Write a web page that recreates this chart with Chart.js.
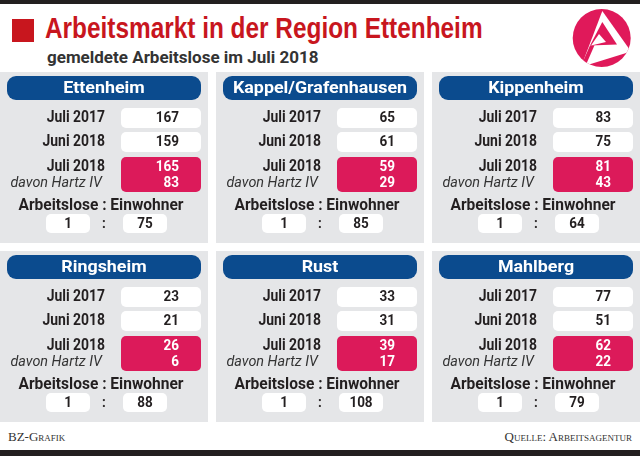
<!DOCTYPE html>
<html lang="de">
<head>
<meta charset="utf-8">
<title>Arbeitsmarkt in der Region Ettenheim</title>
<script src="https://cdn.jsdelivr.net/npm/chart.js@4"></script>
<style>
  html, body { margin: 0; padding: 0; background: #fff; }
  #wrap { position: relative; width: 640px; height: 456px; overflow: hidden; background: #fff; }
  .balken { position: absolute; left: 0; width: 640px; background: #231f20; }
  #quadrat { position: absolute; left: 12px; top: 19px; width: 22px; height: 23px; background: #c8161e; }
  .fit { position: absolute; white-space: nowrap; transform-origin: 0 0; }
  #titel { left: 45px; top: 12px; font: bold 29px "Liberation Sans", Arial, sans-serif; color: #c8161e; }
  #untertitel { left: 47px; top: 47px; font: bold 17px Roboto, sans-serif; color: #333; }
  #logo { position: absolute; left: 570px; top: 5px; }
  #chart { position: absolute; left: 0; top: 72px; }
  .fuss { position: absolute; top: 429px; font: 13px "Liberation Serif", serif; font-variant: small-caps; color: #333; white-space: nowrap; }
</style>
</head>
<body>
<div id="wrap">
  <div class="balken" style="top:0;height:4px"></div>
  <div id="quadrat"></div>
  <div id="titel" class="fit" data-breite="438">Arbeitsmarkt in der Region Ettenheim</div>
  <div id="untertitel" class="fit" data-breite="272">gemeldete Arbeitslose im Juli 2018</div>
  <svg id="logo" width="64" height="66" viewBox="0 0 64 66">
    <defs><clipPath id="kreis"><circle cx="31.7" cy="33" r="29"/></clipPath></defs>
    <circle cx="31.7" cy="33" r="29" fill="#e0195a"/>
    <g clip-path="url(#kreis)">
      <path d="M32.3 6 L11 62 L61 46.5 Z" fill="#fff"/>
      <path d="M32.3 17 L47 39.5 L20 40.5 Z" fill="#e0195a"/>
      <path d="M29 29 L36 37 L21 40.5 Z" fill="#fff"/>
      <path d="M20 40.5 L24.5 40.3 L15 62 L10.5 62 Z" fill="#e0195a"/>
    </g>
  </svg>
  <canvas id="chart" width="640" height="350"></canvas>
  <div class="fuss" style="left:8px">BZ-Grafik</div>
  <div class="fuss" style="right:8px">Quelle: Arbeitsagentur</div>
  <div class="balken" style="top:450px;height:6px"></div>
</div>
<script>
// Werte aus der Grafik
const orte = ['Ettenheim', 'Kappel/Grafenhausen', 'Kippenheim', 'Ringsheim', 'Rust', 'Mahlberg'];
const zeilen = ['Juli 2017', 'Juni 2018', 'Juli 2018'];
const juli2017 = [167, 65, 83, 23, 33, 77];
const juni2018 = [159, 61, 75, 21, 31, 51];
const juli2018 = [165, 59, 81, 26, 39, 62];
const hartzIV = [83, 29, 43, 6, 17, 22];
const einwohnerJeArbeitslosem = [75, 85, 64, 88, 108, 79];

const BLAU = '#0b4b8e';
const PINK = '#dc1a5a';
const GRAU = '#e5e6e8';
const TEXT = '#231f20';
const PANEL_B = 208, PANEL_H = 171, ABSTAND_X = 8, ABSTAND_Y = 8;
const schrift = 'Roboto, "Open Sans", sans-serif';

// Überschriften auf die Breite im Original stauchen
document.querySelectorAll('.fit').forEach(el => {
    const soll = parseFloat(el.dataset.breite);
    el.style.transform = `scaleX(${soll / el.offsetWidth})`;
});

function box(ctx, x, y, w, h, r, farbe) {
    ctx.beginPath();
    ctx.roundRect(x, y, w, h, r);
    ctx.fillStyle = farbe;
    ctx.fill();
}

function text(ctx, t, x, y, font, farbe, align, sx) {
    ctx.save();
    ctx.translate(x, y);
    ctx.scale(sx || 1, 1);
    ctx.font = font;
    ctx.fillStyle = farbe;
    ctx.textAlign = align;
    ctx.textBaseline = 'middle';
    ctx.fillText(t, 0, 0);
    ctx.restore();
}

const panelPlugin = {
    id: 'panels',
    afterDatasetsDraw(chart) {
        const ctx = chart.ctx;
        const punkte = chart.getDatasetMeta(0).data;
        const fLabel = 'bold 16px ' + schrift, fZahl = 'bold 15px ' + schrift;
        punkte.forEach((p, i) => {
            const l = p.x - PANEL_B / 2;
            const t = p.y - PANEL_H / 2;
            box(ctx, l, t, PANEL_B, PANEL_H, 0, GRAU);
            // Kopf
            box(ctx, l + 7, t + 4, 194, 24, 9, BLAU);
            text(ctx, orte[i], l + 104, t + 16.5, 'bold 17px ' + schrift, '#fff', 'center', 1.05);
            // Juli 2017 / Juni 2018
            [juli2017[i], juni2018[i]].forEach((v, k) => {
                const cy = t + 46 + k * 24;
                text(ctx, zeilen[k], l + 105, cy, fLabel, TEXT, 'right', 0.87);
                box(ctx, l + 121, cy - 10, 80, 20, 5, '#fff');
                text(ctx, String(v), l + 179, cy, fZahl, TEXT, 'right', 0.9);
            });
            // Juli 2018 + Hartz IV
            box(ctx, l + 121, t + 85, 80, 35, 5, PINK);
            text(ctx, zeilen[2], l + 105, t + 95, fLabel, TEXT, 'right', 0.87);
            text(ctx, 'davon Hartz IV', l + 102, t + 111, 'italic 15px ' + schrift, '#333', 'right', 0.96);
            text(ctx, String(juli2018[i]), l + 179, t + 95, fZahl, '#fff', 'right', 0.9);
            text(ctx, String(hartzIV[i]), l + 179, t + 111, fZahl, '#fff', 'right', 0.9);
            // Verhältnis
            text(ctx, 'Arbeitslose : Einwohner', l + 101, t + 134, fLabel, TEXT, 'center', 0.97);
            box(ctx, l + 46, t + 142, 44, 19, 5, '#fff');
            box(ctx, l + 123, t + 142, 44, 19, 5, '#fff');
            text(ctx, '1', l + 68, t + 152, fZahl, TEXT, 'center', 0.9);
            text(ctx, ':', l + 104, t + 152, fZahl, TEXT, 'center', 0.9);
            text(ctx, String(einwohnerJeArbeitslosem[i]), l + 145, t + 152, fZahl, TEXT, 'center', 0.9);
        });
    }
};

const pitchX = PANEL_B + ABSTAND_X;
const pitchY = PANEL_H + ABSTAND_Y;

new Chart(document.getElementById('chart'), {
    type: 'scatter',
    data: {
        datasets: [{
            data: orte.map((o, i) => ({ x: i % 3, y: Math.floor(i / 3) })),
            pointRadius: 0
        }]
    },
    options: {
        responsive: false,
        animation: false,
        events: [],
        layout: { padding: 0 },
        plugins: { legend: { display: false }, tooltip: { enabled: false } },
        scales: {
            x: { type: 'linear', display: false, min: -(PANEL_B / 2) / pitchX, max: 2 + (PANEL_B / 2) / pitchX },
            y: { type: 'linear', display: false, reverse: true, min: -(PANEL_H / 2) / pitchY, max: 1 + (PANEL_H / 2) / pitchY }
        }
    },
    plugins: [panelPlugin]
});
</script>
</body>
</html>
